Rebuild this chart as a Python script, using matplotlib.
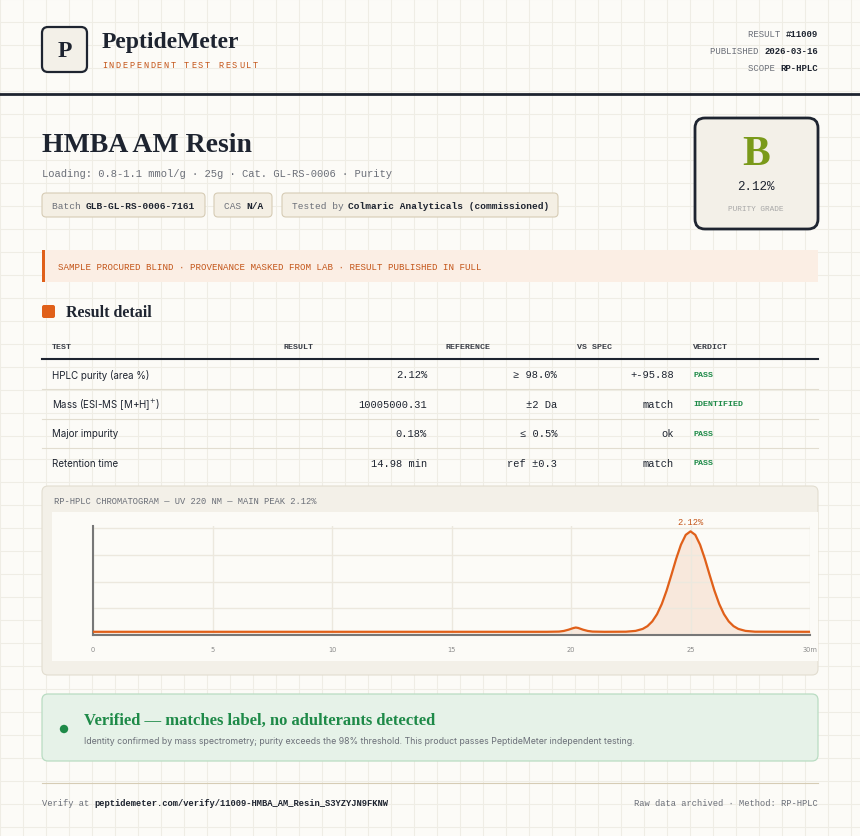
import matplotlib
matplotlib.use("Agg")
import matplotlib.pyplot as plt
from matplotlib.patches import FancyBboxPatch, Rectangle, Circle

# ---- data ----
rows_test = ["HPLC purity (area %)", "Mass (ESI-MS [M+H]$^{+}$)", "Major impurity", "Retention time"]
rows_result = ["2.12%", "10005000.31", "0.18%", "14.98 min"]
rows_ref = ["≥ 98.0%", "±2 Da", "≤ 0.5%", "ref ±0.3"]
rows_vs = ["+-95.88", "match", "ok", "match"]
rows_verdict = ["PASS", "IDENTIFIED", "PASS", "PASS"]
time_min = [0, 19.0, 19.5, 19.7, 19.9, 20.1, 20.2, 20.3, 20.5, 20.7, 20.9, 21.4,
            22.3, 22.7, 23.0, 23.2, 23.4, 23.6, 23.8, 24.0, 24.2, 24.4, 24.6, 24.8, 25.0,
            25.2, 25.4, 25.6, 25.8, 26.0, 26.2, 26.4, 26.6, 26.8, 27.0, 27.3, 27.7, 30]
signal = [3, 3, 3.2, 3.8, 5.0, 6.5, 7.0, 6.6, 5.0, 3.8, 3.2, 3,
          3.1, 3.85, 5.7, 8.3, 12.7, 19.5, 29.1, 41.6, 56.2, 71.3, 84.5, 93.7, 97,
          93.7, 84.5, 71.3, 56.2, 41.6, 29.1, 19.5, 12.7, 8.3, 5.7, 3.85, 3.1, 3]
x_ticks = [0, 5, 10, 15, 20, 25]

BG = "#fcfbf7"; DARK = "#1e2430"; ORANGE = "#e0601a"; GREY = "#6b6f78"; CARD = "#f3f0e8"
SERIF = ["Liberation Serif", "DejaVu Serif"]
MONO = ["Liberation Mono", "DejaVu Sans Mono"]
SANS = ["Inter", "DejaVu Sans"]

fig = plt.figure(figsize=(8.6, 8.37), dpi=100, facecolor=BG)
ax = fig.add_axes([0, 0, 1, 1])
ax.set_xlim(0, 860); ax.set_ylim(837, 0); ax.axis("off")

for gx in range(0, 860, 23):
    ax.plot([gx, gx], [0, 837], color="#efede5", lw=0.8, zorder=0)
for gy in range(0, 837, 23):
    ax.plot([0, 860], [gy, gy], color="#efede5", lw=0.8, zorder=0)

def rbox(x, y, w, h, fc, ec, lw=1, r=4, z=1):
    ax.add_patch(FancyBboxPatch((x, y), w, h, boxstyle=f"round,pad=0,rounding_size={r}",
                                fc=fc, ec=ec, lw=lw, zorder=z))

def T(x, y, s, size, color=DARK, fam=SANS, w="normal", ha="left", **kw):
    ax.text(x, y, s, fontsize=size, color=color, family=fam, weight=w, ha=ha, va="center", zorder=5, **kw)

# header
rbox(42, 28, 45, 45, CARD, DARK, lw=1.6, r=6)
T(64.5, 51, "P", 17, fam=SERIF, w="bold", ha="center")
T(102, 42, "PeptideMeter", 17, fam=SERIF, w="bold")
sub = "INDEPENDENT TEST RESULT"
for i, ch in enumerate(sub):
    T(102 + i * 6.85, 65, ch, 6.2, color="#c4561a", fam=MONO)
for yy, lab, val in [(34, "RESULT ", "#11009"), (51, "PUBLISHED ", "2026-03-16"), (68, "SCOPE ", "RP-HPLC")]:
    T(818, yy, val, 6.5, fam=MONO, w="bold", ha="right")
    T(818 - len(val) * 5.4, yy, lab, 6.5, color=GREY, fam=MONO, ha="right")
ax.plot([0, 860], [95, 95], color=DARK, lw=2)

# title
T(42, 145, "HMBA AM Resin", 20, fam=SERIF, w="bold")
T(42, 174, "Loading: 0.8-1.1 mmol/g · 25g · Cat. GL-RS-0006 · Purity", 7.6, color=GREY, fam=MONO)
pills = [(42, 163, "Batch ", "GLB-GL-RS-0006-7161"), (214, 58, "CAS ", "N/A"), (282, 276, "Tested by ", "Colmaric Analyticals (commissioned)")]
for px, pw, lab, val in pills:
    rbox(px, 194, pw, 24, "#f4efe4", "#d6ccb5", lw=0.8, r=4)
    T(px + 10, 206, lab, 6.8, color=GREY, fam=MONO)
    T(px + 10 + len(lab) * 5.55, 206, val, 6.8, fam=MONO, w="bold")

rbox(695, 119, 123, 111, CARD, DARK, lw=2, r=10)
T(756, 155, "B", 30, color="#7a9a1a", fam=SERIF, w="bold", ha="center")
T(756, 187, "2.12%", 9, fam=MONO, ha="center")
T(756, 209, "PURITY GRADE", 5.6, color="#a8a8a8", fam=MONO, ha="center")

# alert
ax.add_patch(Rectangle((42, 251), 776, 32, fc="#fbeee4", ec="none", zorder=1))
ax.add_patch(Rectangle((42, 251), 3, 32, fc=ORANGE, ec="none", zorder=2))
T(58, 267, "SAMPLE PROCURED BLIND · PROVENANCE MASKED FROM LAB · RESULT PUBLISHED IN FULL", 6.6, color="#c4561a", fam=MONO)

# result detail
rbox(42, 306, 13, 13, ORANGE, "none", r=2)
T(66, 313, "Result detail", 11.5, fam=SERIF, w="bold")

hdr = [(52, "TEST"), (283, "RESULT"), (446, "REFERENCE"), (577, "VS SPEC"), (693, "VERDICT")]
for hx, h in hdr:
    T(hx, 347, h, 6, color="#3b3f48", fam=MONO, w="bold")
ax.plot([42, 818], [360, 360], color=DARK, lw=1.5)
for i in range(4):
    yy = 375 + i * 29.6
    T(52, yy, rows_test[i], 7, fam=SANS)
    T(427, yy, rows_result[i], 7.5, fam=MONO, ha="right")
    T(557, yy, rows_ref[i], 7.5, fam=MONO, ha="right")
    T(674, yy, rows_vs[i], 7.5, fam=MONO, ha="right")
    T(693, yy, rows_verdict[i], 6, color="#1e8a48", fam=MONO, w="bold")
    if i < 3:
        ax.plot([42, 818], [yy + 15, yy + 15], color="#e2ddd0", lw=0.8)

# chromatogram card
rbox(42, 487, 776, 189, CARD, "#e2ddd0", lw=0.8, r=6)
ax.add_patch(Rectangle((52, 513), 766, 149, fc=BG, ec="none", zorder=1.5))
T(54, 502, "RP-HPLC CHROMATOGRAM — UV 220 NM — MAIN PEAK 2.12%", 6.3, color=GREY, fam=MONO)

cax = fig.add_axes([93 / 860, 1 - 636 / 837, (810 - 93) / 860, (636 - 527) / 837])
cax.set_facecolor("none")
cax.fill_between(time_min, 0, signal, color="#f7e4d6", alpha=0.8, zorder=1)
cax.plot(time_min, signal, color=ORANGE, lw=1.6, zorder=3)
cax.set_xlim(0, 30); cax.set_ylim(0, 102)
cax.set_xticks(x_ticks + [30]); cax.set_xticklabels([str(t) for t in x_ticks] + ["30m"])
cax.set_yticks([25, 50, 75, 100]); cax.set_yticklabels([])
cax.tick_params(length=0, labelsize=4.8, colors="#8a8a8a", pad=8)
cax.grid(True, color="#ece8de", lw=1)
for s in ["top", "right"]:
    cax.spines[s].set_visible(False)
cax.spines["left"].set_color("#777777"); cax.spines["bottom"].set_color("#777777")
cax.spines["left"].set_linewidth(1.5); cax.spines["bottom"].set_linewidth(1.5)
cax.annotate("2.12%", (25, 97), xytext=(0, 5), textcoords="offset points", ha="center",
             fontsize=6.3, color="#c4561a", family=MONO)

# verified box
rbox(42, 695, 776, 67, "#e6f2e8", "#b9dcc2", lw=0.9, r=6)
ax.add_patch(Circle((64, 730), 4.2, fc="#1e8a48", ec="none", zorder=3))
T(84, 721, "Verified — matches label, no adulterants detected", 12, color="#1e8a48", fam=SERIF, w="bold")
T(84, 742, "Identity confirmed by mass spectrometry; purity exceeds the 98% threshold. This product passes PeptideMeter independent testing.",
  6.3, color=GREY, fam=SANS)

# footer
ax.plot([42, 818], [784, 784], color="#d6ccb5", lw=0.8)
T(42, 804, "Verify at ", 6.3, color=GREY, fam=MONO)
T(42 + 10 * 5.25, 804, "peptidemeter.com/verify/11009-HMBA_AM_Resin_S3YZYJN9FKNW", 6.3, fam=MONO, w="bold")
T(818, 804, "Raw data archived · Method: RP-HPLC", 6.3, color=GREY, fam=MONO, ha="right")

fig.savefig("out.png", dpi=100, facecolor=BG)
